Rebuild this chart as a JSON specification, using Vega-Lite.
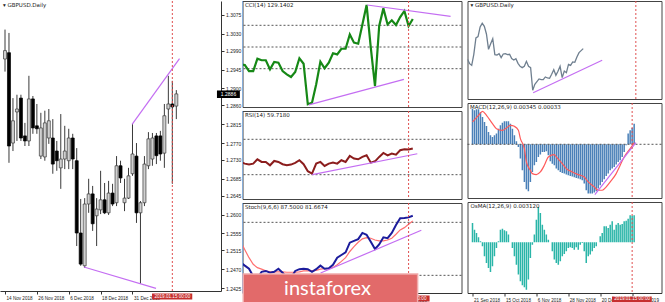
{
  "$schema": "https://vega.github.io/schema/vega-lite/v6.json",
  "padding": 0,
  "background": "white",
  "datasets": {
    "candles": [
      {"i":0,"o":1.2970,"h":1.3040,"l":1.2940,"c":1.2990},
      {"i":1,"o":1.2985,"h":1.3032,"l":1.2723,"c":1.2763},
      {"i":2,"o":1.2770,"h":1.2877,"l":1.2751,"c":1.2823},
      {"i":3,"o":1.2844,"h":1.2885,"l":1.2775,"c":1.2851},
      {"i":4,"o":1.2877,"h":1.2885,"l":1.2775,"c":1.2782},
      {"i":5,"o":1.2787,"h":1.2818,"l":1.2763,"c":1.2775},
      {"i":6,"o":1.2775,"h":1.2930,"l":1.2763,"c":1.2875},
      {"i":7,"o":1.2875,"h":1.2882,"l":1.2792,"c":1.2806},
      {"i":8,"o":1.2811,"h":1.2863,"l":1.2792,"c":1.2804},
      {"i":9,"o":1.2739,"h":1.2842,"l":1.2732,"c":1.2806},
      {"i":10,"o":1.2737,"h":1.2847,"l":1.2728,"c":1.2818},
      {"i":11,"o":1.2782,"h":1.2851,"l":1.2768,"c":1.2823},
      {"i":12,"o":1.2782,"h":1.2827,"l":1.2697,"c":1.2720},
      {"i":13,"o":1.2751,"h":1.2775,"l":1.2704,"c":1.2728},
      {"i":14,"o":1.2711,"h":1.2839,"l":1.2661,"c":1.2732},
      {"i":15,"o":1.2732,"h":1.2811,"l":1.2708,"c":1.2751},
      {"i":16,"o":1.2728,"h":1.2804,"l":1.2708,"c":1.2782},
      {"i":17,"o":1.2782,"h":1.2792,"l":1.2708,"c":1.2732},
      {"i":18,"o":1.2728,"h":1.2758,"l":1.2525,"c":1.2556},
      {"i":19,"o":1.2556,"h":1.2637,"l":1.2478,"c":1.2482},
      {"i":20,"o":1.2478,"h":1.2639,"l":1.2473,"c":1.2625},
      {"i":21,"o":1.2625,"h":1.2685,"l":1.2604,"c":1.2649},
      {"i":22,"o":1.2649,"h":1.2668,"l":1.2561,"c":1.2578},
      {"i":23,"o":1.2597,"h":1.2639,"l":1.2525,"c":1.2613},
      {"i":24,"o":1.2611,"h":1.2704,"l":1.2601,"c":1.2635},
      {"i":25,"o":1.2635,"h":1.2675,"l":1.2601,"c":1.2604},
      {"i":26,"o":1.2604,"h":1.2680,"l":1.2599,"c":1.2651},
      {"i":27,"o":1.2651,"h":1.2673,"l":1.2620,"c":1.2625},
      {"i":28,"o":1.2628,"h":1.2739,"l":1.2620,"c":1.2716},
      {"i":29,"o":1.2716,"h":1.2728,"l":1.2675,"c":1.2687},
      {"i":30,"o":1.2628,"h":1.2685,"l":1.2608,"c":1.2639},
      {"i":31,"o":1.2639,"h":1.2711,"l":1.2637,"c":1.2692},
      {"i":32,"o":1.2697,"h":1.2816,"l":1.2692,"c":1.2744},
      {"i":33,"o":1.2739,"h":1.2770,"l":1.2580,"c":1.2604},
      {"i":34,"o":1.2604,"h":1.2632,"l":1.2435,"c":1.2628},
      {"i":35,"o":1.2628,"h":1.2739,"l":1.2620,"c":1.2720},
      {"i":36,"o":1.2716,"h":1.2796,"l":1.2708,"c":1.2780},
      {"i":37,"o":1.2732,"h":1.2794,"l":1.2716,"c":1.2782},
      {"i":38,"o":1.2787,"h":1.2794,"l":1.2720,"c":1.2740},
      {"i":39,"o":1.2787,"h":1.2799,"l":1.2728,"c":1.2744},
      {"i":40,"o":1.2746,"h":1.2863,"l":1.2711,"c":1.2835},
      {"i":41,"o":1.2851,"h":1.2930,"l":1.2816,"c":1.2863},
      {"i":42,"o":1.2863,"h":1.2918,"l":1.2673,"c":1.2856},
      {"i":43,"o":1.2858,"h":1.2896,"l":1.2827,"c":1.2887}
    ],
    "cci": [
      {"i":2,"v":-80},{"i":3,"v":-83},{"i":4,"v":-111},{"i":5,"v":-111},{"i":6,"v":-54},{"i":7,"v":-61},{"i":8,"v":-61},{"i":9,"v":-103},{"i":10,"v":-69},{"i":11,"v":-72},{"i":12,"v":-111},{"i":13,"v":-126},{"i":14,"v":-138},{"i":15,"v":-115},{"i":16,"v":-52},{"i":17,"v":-77},{"i":18,"v":-264},{"i":19,"v":-257},{"i":20,"v":-172},{"i":21,"v":-68},{"i":22,"v":-98},{"i":23,"v":-72},{"i":24,"v":-29},{"i":25,"v":-34},{"i":26,"v":-8},{"i":27,"v":-8},{"i":28,"v":58},{"i":29,"v":20},{"i":30,"v":15},{"i":31,"v":104},{"i":32,"v":194},{"i":33,"v":-3},{"i":34,"v":-180},{"i":35,"v":97},{"i":36,"v":178},{"i":37,"v":104},{"i":38,"v":123},{"i":39,"v":101},{"i":40,"v":138},{"i":41,"v":166},{"i":42,"v":97},{"i":43,"v":129}
    ],
    "rsi": [
      {"i":2,"v":44.4},{"i":3,"v":42.5},{"i":4,"v":41.4},{"i":5,"v":42.5},{"i":6,"v":47.4},{"i":7,"v":44.4},{"i":8,"v":44.4},{"i":9,"v":40.6},{"i":10,"v":45.5},{"i":11,"v":44.4},{"i":12,"v":41.8},{"i":13,"v":40.6},{"i":14,"v":41.4},{"i":15,"v":43.3},{"i":16,"v":46.3},{"i":17,"v":41.8},{"i":18,"v":33.9},{"i":19,"v":31.3},{"i":20,"v":42.5},{"i":21,"v":44.4},{"i":22,"v":39.9},{"i":23,"v":42.5},{"i":24,"v":43.6},{"i":25,"v":42.5},{"i":26,"v":46.3},{"i":27,"v":44.4},{"i":28,"v":51.2},{"i":29,"v":48.2},{"i":30,"v":47.4},{"i":31,"v":50.1},{"i":32,"v":51.9},{"i":33,"v":43.6},{"i":34,"v":45.1},{"i":35,"v":50.1},{"i":36,"v":54.6},{"i":37,"v":51.9},{"i":38,"v":53.8},{"i":39,"v":52.7},{"i":40,"v":57.6},{"i":41,"v":58.8},{"i":42,"v":58.4},{"i":43,"v":59.7}
    ],
    "stoch": [
      {"i":2,"k":34.7,"d":58.5},{"i":3,"k":31,"d":49},{"i":4,"k":27.5,"d":40},{"i":5,"k":18.9,"d":32.5},{"i":6,"k":17,"d":28.7},{"i":7,"k":24,"d":27},{"i":8,"k":25,"d":25},{"i":9,"k":23,"d":24},{"i":10,"k":24,"d":24},{"i":11,"k":27.5,"d":24},{"i":12,"k":23,"d":24},{"i":13,"k":17,"d":23.5},{"i":14,"k":17,"d":23.5},{"i":15,"k":25,"d":23.5},{"i":16,"k":27,"d":24},{"i":17,"k":27.5,"d":25},{"i":18,"k":27,"d":25},{"i":19,"k":24,"d":25},{"i":20,"k":27,"d":25.7},{"i":21,"k":31,"d":27},{"i":22,"k":27.5,"d":27.5},{"i":23,"k":28,"d":27.5},{"i":24,"k":32,"d":29},{"i":25,"k":40,"d":32},{"i":26,"k":43,"d":35.8},{"i":27,"k":46,"d":40},{"i":28,"k":57,"d":47},{"i":29,"k":59,"d":52.5},{"i":30,"k":61,"d":57.5},{"i":31,"k":68,"d":61.3},{"i":32,"k":66,"d":62.7},{"i":33,"k":58,"d":62},{"i":34,"k":49.8,"d":60},{"i":35,"k":55,"d":59},{"i":36,"k":63,"d":59},{"i":37,"k":62,"d":60},{"i":38,"k":68,"d":62},{"i":39,"k":77,"d":66.5},{"i":40,"k":84.6,"d":71.4},{"i":41,"k":85,"d":74},{"i":42,"k":85.6,"d":77.8},{"i":43,"k":87.5,"d":81.7}
    ],
    "price": [
      {"j":0,"p":1.27645},{"j":1,"p":1.27247},{"j":2,"p":1.27094},{"j":3,"p":1.28104},{"j":4,"p":1.29603},{"j":5,"p":1.29726},{"j":6,"p":1.30613},{"j":7,"p":1.3095},{"j":8,"p":1.30674},{"j":9,"p":1.29971},{"j":10,"p":1.28563},{"j":11,"p":1.29083},{"j":12,"p":1.29542},{"j":13,"p":1.28073},{"j":14,"p":1.28043},{"j":15,"p":1.28165},{"j":16,"p":1.27798},{"j":17,"p":1.28135},{"j":18,"p":1.28165},{"j":19,"p":1.28073},{"j":20,"p":1.28104},{"j":21,"p":1.27706},{"j":22,"p":1.27584},{"j":23,"p":1.27706},{"j":24,"p":1.27278},{"j":25,"p":1.27002},{"j":26,"p":1.2688},{"j":27,"p":1.27002},{"j":28,"p":1.27461},{"j":29,"p":1.27002},{"j":30,"p":1.2688},{"j":31,"p":1.24799},{"j":32,"p":1.2535},{"j":33,"p":1.25595},{"j":34,"p":1.2584},{"j":35,"p":1.25778},{"j":36,"p":1.25778},{"j":37,"p":1.26023},{"j":38,"p":1.25931},{"j":39,"p":1.25901},{"j":40,"p":1.26268},{"j":41,"p":1.26696},{"j":42,"p":1.26176},{"j":43,"p":1.26543},{"j":44,"p":1.27002},{"j":45,"p":1.25962},{"j":46,"p":1.26574},{"j":47,"p":1.26421},{"j":48,"p":1.27186},{"j":49,"p":1.27094},{"j":50,"p":1.274},{"j":51,"p":1.2737},{"j":52,"p":1.27859},{"j":53,"p":1.28257},{"j":54,"p":1.28441},{"j":55,"p":1.28624}
    ],
    "macd": [
      {"j":0,"m":0.00597},{"j":1,"m":0.00569},{"j":2,"m":0.00586},{"j":3,"m":0.00586},{"j":4,"m":0.00541},{"j":5,"m":0.00458},{"j":6,"m":0.00374},{"j":7,"m":0.00307},{"j":8,"m":0.00206},{"j":9,"m":0.00151},{"j":10,"m":0.00123},{"j":11,"m":0.00151},{"j":12,"m":0.00179},{"j":13,"m":0.00262},{"j":14,"m":0.00318},{"j":15,"m":0.00363},{"j":16,"m":0.00385},{"j":17,"m":0.00385},{"j":18,"m":0.00385},{"j":19,"m":0.00346},{"j":20,"m":0.00262},{"j":21,"m":0.00151},{"j":22,"m":0.0005},{"j":23,"m":-0.00045},{"j":24,"m":-0.0024},{"j":25,"m":-0.00435},{"j":26,"m":-0.00631},{"j":27,"m":-0.00753},{"j":28,"m":-0.00787},{"j":29,"m":-0.00631},{"j":30,"m":-0.00463},{"j":31,"m":-0.00352},{"j":32,"m":-0.00296},{"j":33,"m":-0.00212},{"j":34,"m":-0.00173},{"j":35,"m":-0.00128},{"j":36,"m":-0.00128},{"j":37,"m":-0.00117},{"j":38,"m":-0.00184},{"j":39,"m":-0.00285},{"j":40,"m":-0.00324},{"j":41,"m":-0.00352},{"j":42,"m":-0.00407},{"j":43,"m":-0.00435},{"j":44,"m":-0.00463},{"j":45,"m":-0.0048},{"j":46,"m":-0.00491},{"j":47,"m":-0.00508},{"j":48,"m":-0.00519},{"j":49,"m":-0.0053},{"j":50,"m":-0.00541},{"j":51,"m":-0.00552},{"j":52,"m":-0.00564},{"j":53,"m":-0.00575},{"j":54,"m":-0.00586},{"j":55,"m":-0.00603},{"j":56,"m":-0.00658},{"j":57,"m":-0.0077},{"j":58,"m":-0.00826},{"j":59,"m":-0.00826},{"j":60,"m":-0.00826},{"j":61,"m":-0.00809},{"j":62,"m":-0.00787},{"j":63,"m":-0.00742},{"j":64,"m":-0.00686},{"j":65,"m":-0.00631},{"j":66,"m":-0.00586},{"j":67,"m":-0.0053},{"j":68,"m":-0.00491},{"j":69,"m":-0.00435},{"j":70,"m":-0.00407},{"j":71,"m":-0.00379},{"j":72,"m":-0.0034},{"j":73,"m":-0.00296},{"j":74,"m":-0.00268},{"j":75,"m":-0.00212},{"j":76,"m":-0.00128},{"j":77,"m":-0.00017},{"j":78,"m":0.00179},{"j":79,"m":0.00234},{"j":80,"m":0.00273},{"j":81,"m":0.00346}
    ],
    "macdsig": [
      {"j":0,"s":0.00374},{"j":3,"s":0.00485},{"j":5,"s":0.00552},{"j":7,"s":0.00485},{"j":10,"s":0.00346},{"j":12,"s":0.00262},{"j":15,"s":0.00234},{"j":17,"s":0.00273},{"j":19,"s":0.00318},{"j":21,"s":0.00301},{"j":23,"s":0.00234},{"j":24,"s":0.00095},{"j":26,"s":-0.00073},{"j":27,"s":-0.00296},{"j":29,"s":-0.00435},{"j":30,"s":-0.00491},{"j":32,"s":-0.00508},{"j":34,"s":-0.00463},{"j":36,"s":-0.00352},{"j":38,"s":-0.00212},{"j":41,"s":-0.00173},{"j":42,"s":-0.00212},{"j":45,"s":-0.00324},{"j":47,"s":-0.00407},{"j":50,"s":-0.00463},{"j":53,"s":-0.00508},{"j":56,"s":-0.00547},{"j":58,"s":-0.00631},{"j":61,"s":-0.00714},{"j":63,"s":-0.0077},{"j":65,"s":-0.0077},{"j":67,"s":-0.00714},{"j":69,"s":-0.00631},{"j":72,"s":-0.00491},{"j":74,"s":-0.00352},{"j":76,"s":-0.00212},{"j":79,"s":-0.00073},{"j":81,"s":0.00028}
    ],
    "osma": [
      {"j":0,"o":0.00223},{"j":1,"o":0.00146},{"j":2,"o":0.00108},{"j":3,"o":0.00058},{"j":4,"o":0.00012},{"j":5,"o":-0.00046},{"j":6,"o":-0.00162},{"j":7,"o":-0.00239},{"j":8,"o":-0.00296},{"j":9,"o":-0.00343},{"j":10,"o":-0.00277},{"j":11,"o":-0.00162},{"j":12,"o":-0.00065},{"j":13,"o":0.00012},{"j":14,"o":0.00146},{"j":15,"o":0.00158},{"j":16,"o":0.00139},{"j":17,"o":0.00127},{"j":18,"o":0.00089},{"j":19,"o":0},{"j":20,"o":-0.00065},{"j":21,"o":-0.00162},{"j":22,"o":-0.00258},{"j":23,"o":-0.00373},{"j":24,"o":-0.0045},{"j":25,"o":-0.00497},{"j":26,"o":-0.0052},{"j":27,"o":-0.00547},{"j":28,"o":-0.00431},{"j":29,"o":-0.00181},{"j":30,"o":-0.00027},{"j":31,"o":0.00089},{"j":32,"o":0.00262},{"j":33,"o":0.00408},{"j":34,"o":0.00339},{"j":35,"o":0.00204},{"j":36,"o":0.00146},{"j":37,"o":0.00089},{"j":38,"o":0.00031},{"j":39,"o":0},{"j":40,"o":-0.00104},{"j":41,"o":-0.002},{"j":42,"o":-0.00239},{"j":43,"o":-0.00258},{"j":44,"o":-0.00219},{"j":45,"o":-0.00162},{"j":46,"o":-0.00135},{"j":47,"o":-0.00104},{"j":48,"o":-0.00065},{"j":49,"o":-0.00058},{"j":50,"o":-0.00065},{"j":51,"o":-0.00085},{"j":52,"o":-0.00058},{"j":53,"o":-0.00085},{"j":54,"o":-0.00027},{"j":55,"o":-0.00008},{"j":56,"o":-0.00104},{"j":57,"o":-0.00239},{"j":58,"o":-0.00162},{"j":59,"o":-0.00142},{"j":60,"o":-0.00104},{"j":61,"o":-0.00065},{"j":62,"o":-0.00046},{"j":63,"o":0},{"j":64,"o":0.00069},{"j":65,"o":0.00108},{"j":66,"o":0.00185},{"j":67,"o":0.00185},{"j":68,"o":0.00166},{"j":69,"o":0.00204},{"j":70,"o":0.00243},{"j":71,"o":0.00146},{"j":72,"o":0.00204},{"j":73,"o":0.00223},{"j":74,"o":0.00204},{"j":75,"o":0.00212},{"j":76,"o":0.00243},{"j":77,"o":0.0025},{"j":78,"o":0.00273},{"j":79,"o":0.00312},{"j":80,"o":0.00308},{"j":81,"o":0.00312}
    ]
  },
  "spacing": 0.5,
  "hconcat": [
    {
      "width": 221,
      "height": 290,
      "view": {"stroke": null},
      "title": {"text": "▾ GBPUSD.Daily"},
      "layer": [
        {
          "data": {"name": "candles"},
          "mark": {"type": "rule", "color": "#3a3a3a", "strokeWidth": 1, "clip": true},
          "encoding": {
            "x": {"field": "i", "type": "quantitative", "scale": {"domain": [0, 52.96], "nice": false, "zero": false},
              "axis": {"title": null, "values": [0, 8, 16, 24, 32], "tickCount": 50, "labelExpr": "['14 Nov 2018','26 Nov 2018','6 Dec 2018','18 Dec 2018','31 Dec 2018'][datum.value/8]", "labelAlign": "left", "labelOffset": 1, "tickSize": 3, "labelPadding": 1, "labelOverlap": false, "labelFont": "Liberation Sans", "labelFontSize": 4.6, "domain": true, "domainColor": "#333", "tickColor": "#333"}},
            "y": {"field": "l", "type": "quantitative", "scale": {"domain": [1.2418, 1.3108], "nice": false, "zero": false},
              "axis": {"title": null, "orient": "right", "values": [1.3075, 1.303, 1.299, 1.2945, 1.29, 1.286, 1.2815, 1.277, 1.273, 1.2685, 1.2645, 1.26, 1.2555, 1.2515, 1.247, 1.2425], "tickCount": 50, "format": ".4f", "tickSize": 3, "labelPadding": 1.5, "labelOverlap": false, "labelFont": "Liberation Sans", "labelFontSize": 5, "domain": true, "domainColor": "#333", "tickColor": "#333"}},
            "y2": {"field": "h"}
          }
        },
        {
          "data": {"name": "candles"},
          "mark": {"type": "bar", "size": 3, "strokeWidth": 0.7, "clip": true},
          "encoding": {
            "x": {"field": "i", "type": "quantitative", "title": null},
            "y": {"field": "o", "type": "quantitative", "title": null},
            "y2": {"field": "c"},
            "fill": {"condition": {"test": "datum.c >= datum.o", "value": "#d0d0d0"}, "value": "#000000"},
            "stroke": {"condition": {"test": "datum.c >= datum.o", "value": "#3a3a3a"}, "value": "#000000"}
          }
        },
        {
          "data": {"values": [{"g": "a", "i": 31.9, "p": 1.28146}, {"g": "a", "i": 43.8, "p": 1.29707}, {"g": "b", "i": 19.8, "p": 1.24751}, {"g": "b", "i": 37.9, "p": 1.24244}]},
          "mark": {"type": "line", "color": "#c46ef2", "strokeWidth": 1.2},
          "encoding": {
            "x": {"field": "i", "type": "quantitative", "title": null},
            "y": {"field": "p", "type": "quantitative", "title": null},
            "detail": {"field": "g"}
          }
        },
        {
          "data": {"values": [{}]},
          "mark": {"type": "rule", "color": "#e05050", "strokeDash": [2, 2], "strokeWidth": 1},
          "encoding": {"x": {"datum": 42, "type": "quantitative"}}
        },
        {
          "data": {"values": [{"i": 36.9, "i2": 47.0, "p": 1.2412, "p2": 1.23978}]},
          "mark": {"type": "rect", "color": "#c62f2f", "clip": false},
          "encoding": {
            "x": {"field": "i", "type": "quantitative", "title": null}, "x2": {"field": "i2"},
            "y": {"field": "p", "type": "quantitative", "title": null}, "y2": {"field": "p2"}
          }
        },
        {
          "data": {"values": [{"i": 42, "p": 1.24049, "t": "2019.01.15 00:00"}]},
          "mark": {"type": "text", "color": "white", "fontSize": 4.6, "font": "Liberation Sans", "baseline": "middle", "align": "center", "clip": false},
          "encoding": {
            "x": {"field": "i", "type": "quantitative", "title": null},
            "y": {"field": "p", "type": "quantitative", "title": null},
            "text": {"field": "t"}
          }
        },
        {
          "data": {"values": [{"i": 53.2, "i2": 58.95, "p": 1.28951, "p2": 1.28772}]},
          "mark": {"type": "rect", "color": "#000000", "clip": false},
          "encoding": {
            "x": {"field": "i", "type": "quantitative", "title": null}, "x2": {"field": "i2"},
            "y": {"field": "p", "type": "quantitative", "title": null}, "y2": {"field": "p2"}
          }
        },
        {
          "data": {"values": [{"i": 56.1, "p": 1.28862, "t": "1.2886"}]},
          "mark": {"type": "text", "color": "white", "fontSize": 5, "font": "Liberation Sans", "baseline": "middle", "align": "center", "clip": false},
          "encoding": {
            "x": {"field": "i", "type": "quantitative", "title": null},
            "y": {"field": "p", "type": "quantitative", "title": null},
            "text": {"field": "t"}
          }
        }
      ]
    },
    {
      "spacing": 4,
      "hconcat": [
        {
          "spacing": 2,
          "vconcat": [
            {
              "width": 219,
              "height": 106,
              "title": {"text": "CCI(14) 129.1402"},
              "layer": [
                {
                  "data": {"values": [{"v": 100}, {"v": 0}, {"v": -100}]},
                  "mark": {"type": "rule", "color": "#555", "strokeDash": [2, 2], "strokeWidth": 1},
                  "encoding": {"y": {"field": "v", "type": "quantitative", "scale": {"domain": [-276.5, 212], "nice": false, "zero": false}, "axis": null}}
                },
                {
                  "data": {"name": "cci"},
                  "mark": {"type": "line", "color": "#168816", "strokeWidth": 2.2, "clip": true},
                  "encoding": {
                    "x": {"field": "i", "type": "quantitative", "scale": {"domain": [2.45, 54.6], "nice": false, "zero": false}, "axis": null},
                    "y": {"field": "v", "type": "quantitative", "axis": null}
                  }
                },
                {
                  "data": {"values": [{"g": "a", "i": 32.17, "v": 193.5}, {"g": "a", "i": 52.0, "v": 141.5}, {"g": "b", "i": 18.25, "v": -267}, {"g": "b", "i": 40.89, "v": -149}]},
                  "mark": {"type": "line", "color": "#c46ef2", "strokeWidth": 1.2, "clip": true},
                  "encoding": {
                    "x": {"field": "i", "type": "quantitative", "axis": null},
                    "y": {"field": "v", "type": "quantitative", "axis": null},
                    "detail": {"field": "g"}
                  }
                },
                {
                  "data": {"values": [{}]},
                  "mark": {"type": "rule", "color": "#e05050", "strokeDash": [2, 2], "strokeWidth": 1},
                  "encoding": {"x": {"datum": 42, "type": "quantitative", "axis": null}}
                },
                {
                  "data": {"values": [{}]},
                  "mark": {"type": "rule", "color": "#86acd8", "strokeWidth": 1},
                  "encoding": {"x": {"datum": 2.45, "type": "quantitative", "axis": null}}
                }
              ]
            },
            {
              "width": 219,
              "height": 88,
              "title": {"text": "RSI(14) 59.7180"},
              "layer": [
                {
                  "data": {"values": [{"v": 70}, {"v": 30}]},
                  "mark": {"type": "rule", "color": "#555", "strokeDash": [2, 2], "strokeWidth": 1},
                  "encoding": {"y": {"field": "v", "type": "quantitative", "scale": {"domain": [2.5, 102], "nice": false, "zero": false}, "axis": null}}
                },
                {
                  "data": {"name": "rsi"},
                  "mark": {"type": "line", "color": "#8b1d1d", "strokeWidth": 2, "clip": true},
                  "encoding": {
                    "x": {"field": "i", "type": "quantitative", "scale": {"domain": [2.45, 54.6], "nice": false, "zero": false}, "axis": null},
                    "y": {"field": "v", "type": "quantitative", "axis": null}
                  }
                },
                {
                  "data": {"values": [{"i": 19.06, "v": 30}, {"i": 44.08, "v": 53.7}]},
                  "mark": {"type": "line", "color": "#c46ef2", "strokeWidth": 1.2, "clip": true},
                  "encoding": {
                    "x": {"field": "i", "type": "quantitative", "axis": null},
                    "y": {"field": "v", "type": "quantitative", "axis": null}
                  }
                },
                {
                  "data": {"values": [{}]},
                  "mark": {"type": "rule", "color": "#e05050", "strokeDash": [2, 2], "strokeWidth": 1},
                  "encoding": {"x": {"datum": 42, "type": "quantitative", "axis": null}}
                },
                {
                  "data": {"values": [{}]},
                  "mark": {"type": "rule", "color": "#86acd8", "strokeWidth": 1},
                  "encoding": {"x": {"datum": 2.45, "type": "quantitative", "axis": null}}
                }
              ]
            },
            {
              "width": 219,
              "height": 90,
              "title": {"text": "Stoch(9,6,6) 87.5000 81.6674"},
              "layer": [
                {
                  "data": {"values": [{"v": 80}, {"v": 20}]},
                  "mark": {"type": "rule", "color": "#555", "strokeDash": [2, 2], "strokeWidth": 1},
                  "encoding": {"y": {"field": "v", "type": "quantitative", "scale": {"domain": [0, 101.9], "nice": false, "zero": false}, "axis": null}}
                },
                {
                  "data": {"name": "stoch"},
                  "mark": {"type": "line", "color": "#ff7070", "strokeWidth": 1.2, "clip": true},
                  "encoding": {
                    "x": {"field": "i", "type": "quantitative", "scale": {"domain": [2.45, 54.6], "nice": false, "zero": false},
                      "axis": {"title": null, "values": [8, 16, 24, 32, 40], "tickCount": 50, "labelExpr": "['26 Nov 2018','6 Dec 2018','18 Dec 2018','31 Dec 2018','10 Jan 2019'][datum.value/8-1]", "labelAlign": "left", "labelOffset": 1, "tickSize": 3, "labelPadding": 1, "labelOverlap": false, "labelFont": "Liberation Sans", "labelFontSize": 4.6, "domain": true, "domainColor": "#333", "tickColor": "#333"}},
                    "y": {"field": "d", "type": "quantitative", "axis": null}
                  }
                },
                {
                  "data": {"name": "stoch"},
                  "mark": {"type": "line", "color": "#1c1c9c", "strokeWidth": 2, "clip": true},
                  "encoding": {
                    "x": {"field": "i", "type": "quantitative", "title": null},
                    "y": {"field": "k", "type": "quantitative", "axis": null}
                  }
                },
                {
                  "data": {"values": [{"i": 21.04, "v": 22.6}, {"i": 45.03, "v": 71}]},
                  "mark": {"type": "line", "color": "#c46ef2", "strokeWidth": 1.2, "clip": true},
                  "encoding": {
                    "x": {"field": "i", "type": "quantitative", "title": null},
                    "y": {"field": "v", "type": "quantitative", "axis": null}
                  }
                },
                {
                  "data": {"values": [{}]},
                  "mark": {"type": "rule", "color": "#e05050", "strokeDash": [2, 2], "strokeWidth": 1},
                  "encoding": {"x": {"datum": 42, "type": "quantitative"}}
                },
                {
                  "data": {"values": [{}]},
                  "mark": {"type": "rule", "color": "#86acd8", "strokeWidth": 1},
                  "encoding": {"x": {"datum": 2.45, "type": "quantitative"}}
                },
                {
                  "data": {"values": [{"i": 37.0, "i2": 47.0, "v": -2.87, "v2": -9.66}]},
                  "mark": {"type": "rect", "color": "#c62f2f", "clip": false},
                  "encoding": {
                    "x": {"field": "i", "type": "quantitative", "title": null}, "x2": {"field": "i2"},
                    "y": {"field": "v", "type": "quantitative", "axis": null}, "y2": {"field": "v2"}
                  }
                },
                {
                  "data": {"values": [{"i": 42, "v": -6.26, "t": "2019.01.15 00:00"}]},
                  "mark": {"type": "text", "color": "white", "fontSize": 4.6, "font": "Liberation Sans", "baseline": "middle", "align": "center", "clip": false},
                  "encoding": {
                    "x": {"field": "i", "type": "quantitative", "title": null},
                    "y": {"field": "v", "type": "quantitative", "axis": null},
                    "text": {"field": "t"}
                  }
                },
                {
                  "data": {"values": [{"i": 2.63, "i2": 44.15, "v": 21.47, "v2": -13.6}]},
                  "mark": {"type": "rect", "color": "#e26a6a", "stroke": "#f0aaaa", "strokeWidth": 1.5, "clip": false},
                  "encoding": {
                    "x": {"field": "i", "type": "quantitative", "title": null}, "x2": {"field": "i2"},
                    "y": {"field": "v", "type": "quantitative", "axis": null}, "y2": {"field": "v2"}
                  }
                },
                {
                  "data": {"values": [{"i": 22.7, "v": -2.0, "t": "instaforex"}]},
                  "mark": {"type": "text", "color": "white", "fontSize": 20, "font": "Lato", "baseline": "alphabetic", "align": "center", "clip": false},
                  "encoding": {
                    "x": {"field": "i", "type": "quantitative", "title": null},
                    "y": {"field": "v", "type": "quantitative", "axis": null},
                    "text": {"field": "t"}
                  }
                }
              ]
            }
          ]
        },
        {
          "spacing": 2,
          "vconcat": [
            {
              "width": 194,
              "height": 98,
              "title": {"text": "▾ GBPUSD.Daily"},
              "layer": [
                {
                  "data": {"name": "price"},
                  "mark": {"type": "line", "color": "#6f7f8f", "strokeWidth": 1.3, "clip": true},
                  "encoding": {
                    "x": {"field": "j", "type": "quantitative", "scale": {"domain": [0, 92.2], "nice": false, "zero": false}, "axis": null},
                    "y": {"field": "p", "type": "quantitative", "scale": {"domain": [1.24, 1.33], "nice": false, "zero": false}, "axis": null}
                  }
                },
                {
                  "data": {"values": [{"j": 31.2, "p": 1.2458}, {"j": 64.0, "p": 1.2756}]},
                  "mark": {"type": "line", "color": "#c46ef2", "strokeWidth": 1.2},
                  "encoding": {
                    "x": {"field": "j", "type": "quantitative", "axis": null},
                    "y": {"field": "p", "type": "quantitative", "axis": null}
                  }
                },
                {
                  "data": {"values": [{}]},
                  "mark": {"type": "rule", "color": "#e05050", "strokeDash": [2, 2], "strokeWidth": 1},
                  "encoding": {"x": {"datum": 80, "type": "quantitative", "axis": null}}
                }
              ]
            },
            {
              "width": 194,
              "height": 95,
              "title": {"text": "MACD(12,26,9) 0.00345 0.00033"},
              "layer": [
                {
                  "data": {"name": "macd"},
                  "mark": {"type": "bar", "color": "#4a80b8", "size": 1.5, "clip": true},
                  "encoding": {
                    "x": {"field": "j", "type": "quantitative", "scale": {"domain": [0, 92.2], "nice": false, "zero": false}, "axis": null},
                    "y": {"field": "m", "type": "quantitative", "scale": {"domain": [-0.009, 0.00692], "nice": false, "zero": false}, "axis": null},
                    "y2": {"datum": 0}
                  }
                },
                {
                  "data": {"values": [{"v": 0}]},
                  "mark": {"type": "rule", "color": "#555", "strokeDash": [2, 2], "strokeWidth": 1},
                  "encoding": {"y": {"field": "v", "type": "quantitative", "axis": null}}
                },
                {
                  "data": {"name": "macdsig"},
                  "mark": {"type": "line", "color": "#ff5a5a", "strokeWidth": 1.2, "interpolate": "monotone", "clip": true},
                  "encoding": {
                    "x": {"field": "j", "type": "quantitative", "axis": null},
                    "y": {"field": "s", "type": "quantitative", "axis": null}
                  }
                },
                {
                  "data": {"values": [{"j": 61.3, "m": -0.00844}, {"j": 81.9, "m": 0.00027}]},
                  "mark": {"type": "line", "color": "#c46ef2", "strokeWidth": 1.2},
                  "encoding": {
                    "x": {"field": "j", "type": "quantitative", "axis": null},
                    "y": {"field": "m", "type": "quantitative", "axis": null}
                  }
                },
                {
                  "data": {"values": [{}]},
                  "mark": {"type": "rule", "color": "#e05050", "strokeDash": [2, 2], "strokeWidth": 1},
                  "encoding": {"x": {"datum": 80, "type": "quantitative", "axis": null}}
                }
              ]
            },
            {
              "width": 194,
              "height": 91,
              "title": {"text": "OsMA(12,26,9) 0.003120"},
              "layer": [
                {
                  "data": {"name": "osma"},
                  "mark": {"type": "bar", "color": "#2ab5a8", "size": 1.5, "clip": true},
                  "encoding": {
                    "x": {"field": "j", "type": "quantitative", "scale": {"domain": [0, 92.2], "nice": false, "zero": false},
                      "axis": {"title": null, "values": [0, 16, 32, 48, 64, 80], "tickCount": 50, "labelExpr": "['21 Sep 2018','15 Oct 2018','6 Nov 2018','28 Nov 2018','20 Dec 2018','15 Jan 2019'][datum.value/16]", "labelAlign": "left", "labelOffset": 1, "tickSize": 3, "labelPadding": 1, "labelOverlap": false, "labelFont": "Liberation Sans", "labelFontSize": 4.6, "domain": true, "domainColor": "#333", "tickColor": "#333"}},
                    "y": {"field": "o", "type": "quantitative", "scale": {"domain": [-0.00586, 0.00466], "nice": false, "zero": false}, "axis": null},
                    "y2": {"datum": 0}
                  }
                },
                {
                  "data": {"values": [{}]},
                  "mark": {"type": "rule", "color": "#e05050", "strokeDash": [2, 2], "strokeWidth": 1},
                  "encoding": {"x": {"datum": 80, "type": "quantitative"}}
                },
                {
                  "data": {"values": [{"j": 69.9, "j2": 89.8, "o": -0.00626, "o2": -0.00695}]},
                  "mark": {"type": "rect", "color": "#c62f2f", "clip": false},
                  "encoding": {
                    "x": {"field": "j", "type": "quantitative", "title": null}, "x2": {"field": "j2"},
                    "y": {"field": "o", "type": "quantitative", "axis": null}, "y2": {"field": "o2"}
                  }
                },
                {
                  "data": {"values": [{"j": 80, "o": -0.0066, "t": "2019.01.15 00:00"}]},
                  "mark": {"type": "text", "color": "white", "fontSize": 4.6, "font": "Liberation Sans", "baseline": "middle", "align": "center", "clip": false},
                  "encoding": {
                    "x": {"field": "j", "type": "quantitative", "title": null},
                    "y": {"field": "o", "type": "quantitative", "axis": null},
                    "text": {"field": "t"}
                  }
                }
              ]
            }
          ]
        }
      ]
    }
  ],
  "config": {
    "view": {"stroke": "#444", "strokeWidth": 1},
    "axis": {"labelFont": "Liberation Sans", "labelFontSize": 5, "labelColor": "#222", "grid": false, "labelOverlap": false, "labelFlush": false},
    "title": {"anchor": "start", "font": "DejaVu Sans", "fontSize": 5.5, "fontWeight": "normal", "color": "#222", "offset": -8, "dx": 3}
  }
}
